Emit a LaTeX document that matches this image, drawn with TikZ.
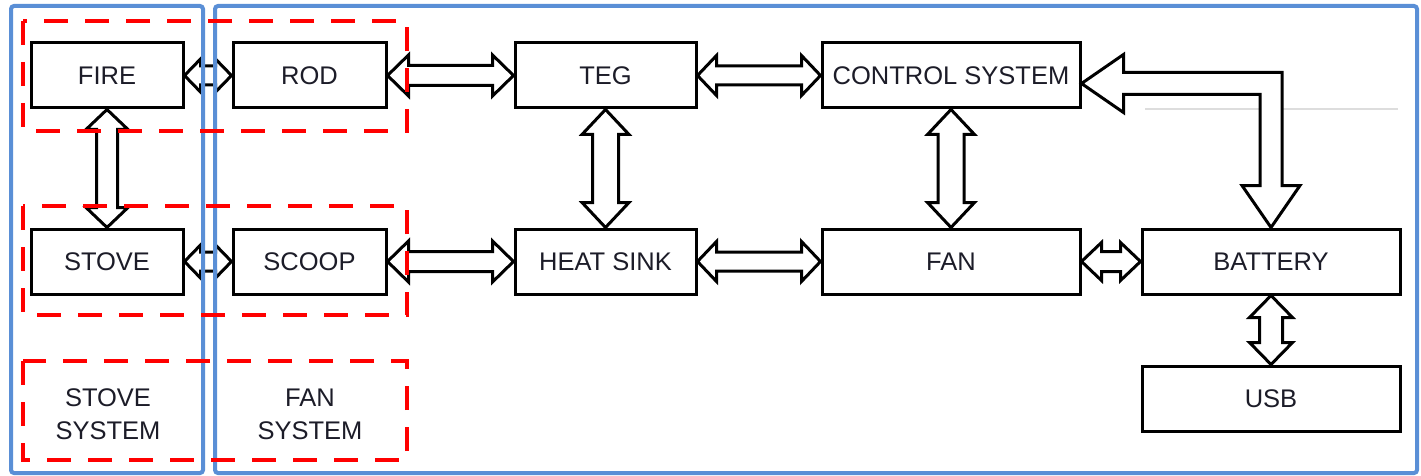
\documentclass[tikz,border=0pt]{standalone}
\usepackage{fontspec}
\setmainfont{Liberation Sans}
\usetikzlibrary{calc}
\definecolor{frameblue}{HTML}{5A8FD6}
\definecolor{dashred}{HTML}{FF0000}
\definecolor{txt}{HTML}{1C1C28}
\definecolor{faint}{HTML}{DDDDDD}

% #1 start, #2 end, #3 shaft half width, #4 head half width, #5 head length
\newcommand\blockarr[5]{%
  \path (#1); \pgfgetlastxy{\bax}{\bay}%
  \path (#2); \pgfgetlastxy{\bbx}{\bby}%
  \pgfmathsetmacro\bl{veclen(\bbx-\bax,\bby-\bay)}%
  \pgfmathsetmacro\ba{atan2(\bby-\bay,\bbx-\bax)}%
  \begin{scope}[shift={(#1)}, rotate=\ba, x=1pt, y=1pt]
    \draw[blk] (0,0) -- (#5,#4) -- (#5,#3) -- (\bl-#5,#3) -- (\bl-#5,#4) -- (\bl,0)
      -- (\bl-#5,-#4) -- (\bl-#5,-#3) -- (#5,-#3) -- (#5,-#4) -- cycle;
  \end{scope}}

\begin{document}
\begin{tikzpicture}[x=1pt, y=-1pt,
  font=\fontsize{25.5}{33}\selectfont,
  box/.style={draw=black, line width=3pt, fill=white, text=txt,
    minimum width=152pt, minimum height=65pt, inner sep=0pt},
  label/.style={text=txt, align=center, inner sep=0pt},
  blk/.style={draw=black, line width=3pt, fill=white, line join=miter},
  frame/.style={draw=frameblue, line width=4pt, rounded corners=3pt},
  grp/.style={draw=dashred, line width=4pt, dash pattern=on 24pt off 17pt}]
\useasboundingbox (0,0) rectangle (1421,476);

% faint guide line
\draw[faint, line width=1.2pt] (1145,109) -- (1398,109);

% boxes
\node[box] (fire) at (107,75.5) {FIRE};
\node[box, minimum width=153pt] (rod) at (309.5,75.5) {ROD};
\node[box] (stove) at (107,261.5) {STOVE};
\node[box, minimum width=153pt] (scoop) at (309.5,261.5) {SCOOP};
\node[box, minimum width=181pt] (teg) at (605.5,75.5) {TEG};
\node[box, minimum width=181pt] (hs) at (605.5,261.5) {HEAT SINK};
\node[box, minimum width=258pt] (ctrl) at (951,75.5) {CONTROL SYSTEM};
\node[box, minimum width=258pt] (fan) at (951,261.5) {FAN};
\node[box, minimum width=258pt] (bat) at (1271,261.5) {BATTERY};
\node[box, minimum width=258pt] (usb) at (1271,398.5) {USB};

\node[label] (stovesys) at (108,414) {STOVE\\SYSTEM};
\node[label] (fansys) at (310,414) {FAN\\SYSTEM};

% block arrows
\blockarr{fire.east}{rod.west}{9.5}{16.5}{16}
\blockarr{stove.east}{scoop.west}{9.5}{16.5}{16}
\blockarr{rod.east}{teg.west}{10}{20.5}{21}
\blockarr{scoop.east}{hs.west}{10}{20.5}{21}
\blockarr{teg.east}{ctrl.west}{9.5}{20}{19}
\blockarr{hs.east}{fan.west}{9.5}{20}{19}
\blockarr{fan.east}{bat.west}{10}{19}{20}
\blockarr{fire.south}{stove.north}{10.5}{21}{20}
\blockarr{teg.south}{hs.north}{13}{23.5}{25}
\blockarr{ctrl.south}{fan.north}{13}{23.5}{25}
\blockarr{bat.south}{usb.north}{11.5}{21.5}{22}

% L-shaped arrow control system <-> battery
\draw[blk] let \p1=($(ctrl.east)+(0,8)$), \p2=(bat.north) in
  (\x1,\y1) -- (\x1+42pt,\y1+29pt) -- (\x1+42pt,\y1+11pt) -- (\x2+11pt,\y1+11pt)
  -- (\x2+11pt,\y2+42pt) -- (\x2+29pt,\y2+42pt) -- (\x2,\y2) -- (\x2-29pt,\y2+42pt)
  -- (\x2-11pt,\y2+42pt) -- (\x2-11pt,\y1-11pt) -- (\x1+42pt,\y1-11pt)
  -- (\x1+42pt,\y1-29pt) -- cycle;

% blue system frames
\draw[frame] (11,6) rectangle (203,473);
\draw[frame] (215,6) rectangle (1417,473);

% red dashed groups
\draw[grp] (23,21) rectangle (407,131);
\draw[grp] (23,206) rectangle (407,315);
\draw[grp] (23,361) rectangle (407,460);
\end{tikzpicture}
\end{document}
